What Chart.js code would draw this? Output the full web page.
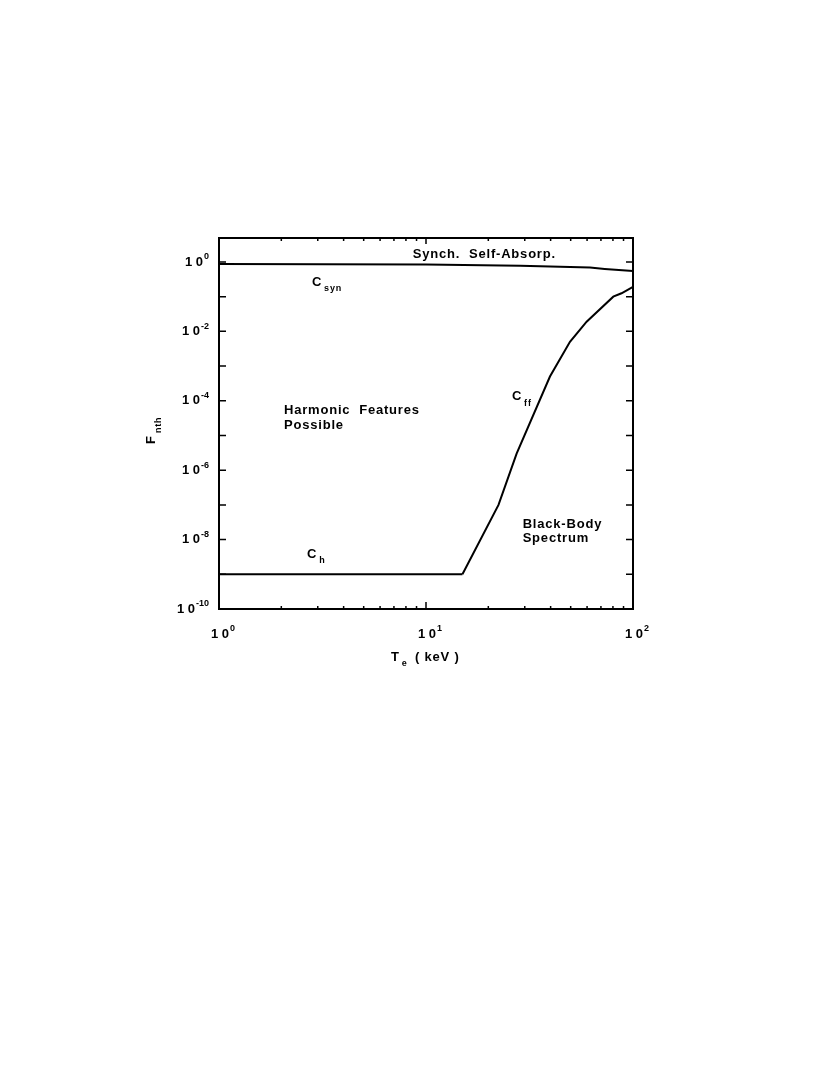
<!DOCTYPE html>
<html>
<head>
<meta charset="utf-8">
<script src="https://cdn.jsdelivr.net/npm/chart.js@4.4.0/dist/chart.umd.min.js"></script>
<style>
  body { margin: 0; background: #fff; }
  #wrap { width: 816px; height: 1067px; }
</style>
</head>
<body>
<div id="wrap"><canvas id="myChart" width="816" height="1067"></canvas></div>
<script>
// values: T_e (keV) vs F_nth
var synT = [1, 10, 28.5, 62, 73, 100];
var synF = [0.87, 0.84, 0.78, 0.69, 0.63, 0.55];

var hT = [1, 15];
var hF = [1e-9, 1e-9];

var ffT = [15, 22.4, 27.4, 39.7, 49.6, 59.7, 80.3, 88, 100];
var ffF = [1e-9, 1e-7, 3e-6, 5e-4, 5e-3, 0.019, 0.1, 0.125, 0.19];

// tick labels (exponents of 10)
var xLabelExp = [0, 1, 2];
var yLabelExp = [0, -2, -4, -6, -8, -10];
var xMinor = [2, 3, 4, 5, 6, 7, 8, 9, 20, 30, 40, 50, 60, 70, 80, 90];
var yDecades = [0, -1, -2, -3, -4, -5, -6, -7, -8, -9, -10];

var FONT = '"Liberation Sans", Arial, Helvetica, sans-serif';
var SPACING = '0.8px';

function pts(xs, ys) {
  return xs.map(function (x, i) { return { x: x, y: ys[i] }; });
}

// "1 0" with raised exponent, like the original plot labels
function powLabel(ctx, exp, x, y, align) {
  ctx.font = 'bold 13px ' + FONT;
  var bw = ctx.measureText('1 0').width;
  ctx.font = 'bold 9px ' + FONT;
  var es = String(exp);
  var sw = ctx.measureText(es).width;
  var left = align == 'right' ? x - bw - sw - 1 : x - bw / 2;
  ctx.textAlign = 'left';
  ctx.textBaseline = 'middle';
  ctx.font = 'bold 13px ' + FONT;
  ctx.fillText('1 0', left, y);
  ctx.font = 'bold 9px ' + FONT;
  ctx.fillText(es, left + bw + 1, y - 5);
}

// text with a subscript
function subText(ctx, base, sub, x, y) {
  ctx.textAlign = 'left';
  ctx.textBaseline = 'middle';
  ctx.font = 'bold 13px ' + FONT;
  ctx.fillText(base, x, y);
  var w = ctx.measureText(base).width;
  ctx.font = 'bold 9px ' + FONT;
  ctx.fillText(sub, x + w + 2, y + 7);
}

var decorPlugin = {
  id: 'decor',
  afterDraw: function (chart) {
    var ctx = chart.ctx;
    var a = chart.chartArea;
    var xs = chart.scales.x, ys = chart.scales.y;
    ctx.save();
    ctx.fillStyle = '#000';
    ctx.strokeStyle = '#000';

    // frame
    ctx.lineWidth = 2;
    ctx.strokeRect(a.left, a.top, a.right - a.left, a.bottom - a.top);

    // inward ticks
    ctx.lineWidth = 1.5;
    ctx.beginPath();
    yDecades.forEach(function (e) {
      var py = ys.getPixelForValue(Math.pow(10, e));
      ctx.moveTo(a.left, py); ctx.lineTo(a.left + 7, py);
      ctx.moveTo(a.right, py); ctx.lineTo(a.right - 7, py);
    });
    xMinor.forEach(function (v) {
      var px = xs.getPixelForValue(v);
      ctx.moveTo(px, a.bottom); ctx.lineTo(px, a.bottom - 3);
      ctx.moveTo(px, a.top); ctx.lineTo(px, a.top + 3);
    });
    xLabelExp.forEach(function (e) {
      var px = xs.getPixelForValue(Math.pow(10, e));
      ctx.moveTo(px, a.bottom); ctx.lineTo(px, a.bottom - 7);
      ctx.moveTo(px, a.top); ctx.lineTo(px, a.top + 6);
    });
    ctx.stroke();

    // tick labels
    yLabelExp.forEach(function (e) {
      powLabel(ctx, e, a.left - 10, ys.getPixelForValue(Math.pow(10, e)), 'right');
    });
    xLabelExp.forEach(function (e) {
      powLabel(ctx, e, xs.getPixelForValue(Math.pow(10, e)) + 1, a.bottom + 25, 'center');
    });

    ctx.letterSpacing = SPACING;

    // axis titles
    subText(ctx, 'T', 'e', 391, 657);
    ctx.font = 'bold 13px ' + FONT;
    ctx.fillText('( keV )', 415, 657);

    ctx.save();
    ctx.translate(151, 444);
    ctx.rotate(-Math.PI / 2);
    ctx.textAlign = 'left';
    ctx.textBaseline = 'middle';
    ctx.font = 'bold 13px ' + FONT;
    ctx.fillText('F', 0, 0);
    ctx.font = 'bold 9px ' + FONT;
    ctx.fillText('nth', 11, 8);
    ctx.restore();

    // annotations placed in data coordinates
    function at(t, f) { return [xs.getPixelForValue(t), ys.getPixelForValue(f)]; }
    ctx.font = 'bold 13px ' + FONT;
    ctx.textAlign = 'left';
    ctx.textBaseline = 'middle';
    var p;
    p = at(8.63, 1.6);    ctx.fillText('Synch.  Self-Absorp.', p[0], p[1]);
    p = at(2.06, 5.1e-5); ctx.fillText('Harmonic  Features', p[0], p[1]);
    p = at(2.06, 2e-5);   ctx.fillText('Possible', p[0], p[1]);
    p = at(29.3, 2.7e-8); ctx.fillText('Black-Body', p[0], p[1]);
    p = at(29.3, 1.1e-8); ctx.fillText('Spectrum', p[0], p[1]);
    p = at(2.81, 0.265);  subText(ctx, 'C', 'syn', p[0], p[1]);
    p = at(26, 1.3e-4);   subText(ctx, 'C', 'ff', p[0], p[1]);
    p = at(2.66, 3.85e-9); subText(ctx, 'C', 'h', p[0], p[1]);

    ctx.restore();
  }
};

var lineStyle = { borderColor: '#000', borderWidth: 2, pointRadius: 0, showLine: true, tension: 0, fill: false };

new Chart("myChart", {
  type: "scatter",
  data: {
    datasets: [
      Object.assign({ label: 'C_syn', data: pts(synT, synF) }, lineStyle),
      Object.assign({ label: 'C_h', data: pts(hT, hF) }, lineStyle),
      Object.assign({ label: 'C_ff', data: pts(ffT, ffF) }, lineStyle)
    ]
  },
  options: {
    responsive: false,
    animation: false,
    devicePixelRatio: 1,
    layout: { padding: { left: 219, right: 183, top: 238, bottom: 458 } },
    plugins: { legend: { display: false }, tooltip: { enabled: false } },
    scales: {
      x: {
        type: 'logarithmic', min: 1, max: 100,
        grid: { display: false }, border: { display: false },
        ticks: { display: false },
        afterFit: function (s) { s.height = 0; }
      },
      y: {
        type: 'logarithmic', min: 1e-10, max: 4.9,
        grid: { display: false }, border: { display: false },
        ticks: { display: false },
        afterFit: function (s) { s.width = 0; }
      }
    }
  },
  plugins: [decorPlugin]
});
</script>
</body>
</html>
